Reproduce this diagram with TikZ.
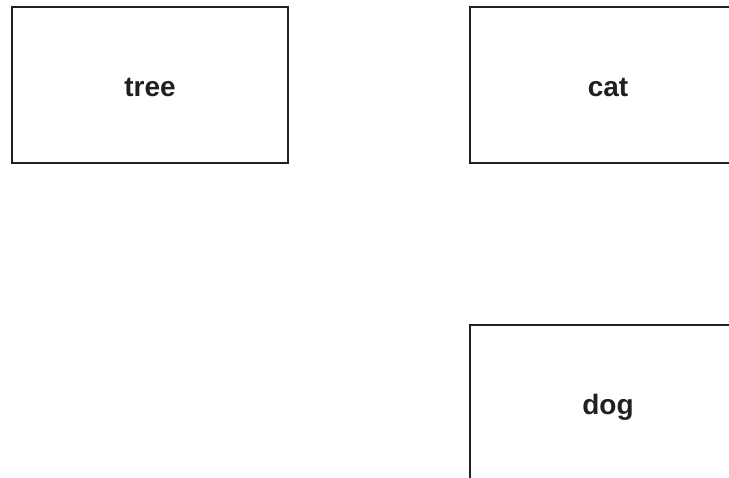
\documentclass[tikz,border=0pt]{standalone}
\usepackage{fontspec}
\setmainfont{Liberation Sans}
\definecolor{boxline}{RGB}{35,31,32}
\begin{document}
\begin{tikzpicture}[
    x=1pt, y=1pt,
    word/.style={
        rectangle,
        draw=boxline,
        line width=2pt,
        minimum width=276pt,
        minimum height=156pt,
        inner sep=0pt,
        text height=30pt,
        text depth=6pt,
        text=boxline,
        font=\fontsize{28}{32}\selectfont\bfseries
    }
]
    \useasboundingbox (0,0) rectangle (729,478);
    \clip (0,0) rectangle (729,478);

    \node[word] (tree) at (150, 393) {tree};
    \node[word] (cat) at (608, 393) {cat};

    \node[word] (dog) at (608, 75) {dog};
\end{tikzpicture}
\end{document}
